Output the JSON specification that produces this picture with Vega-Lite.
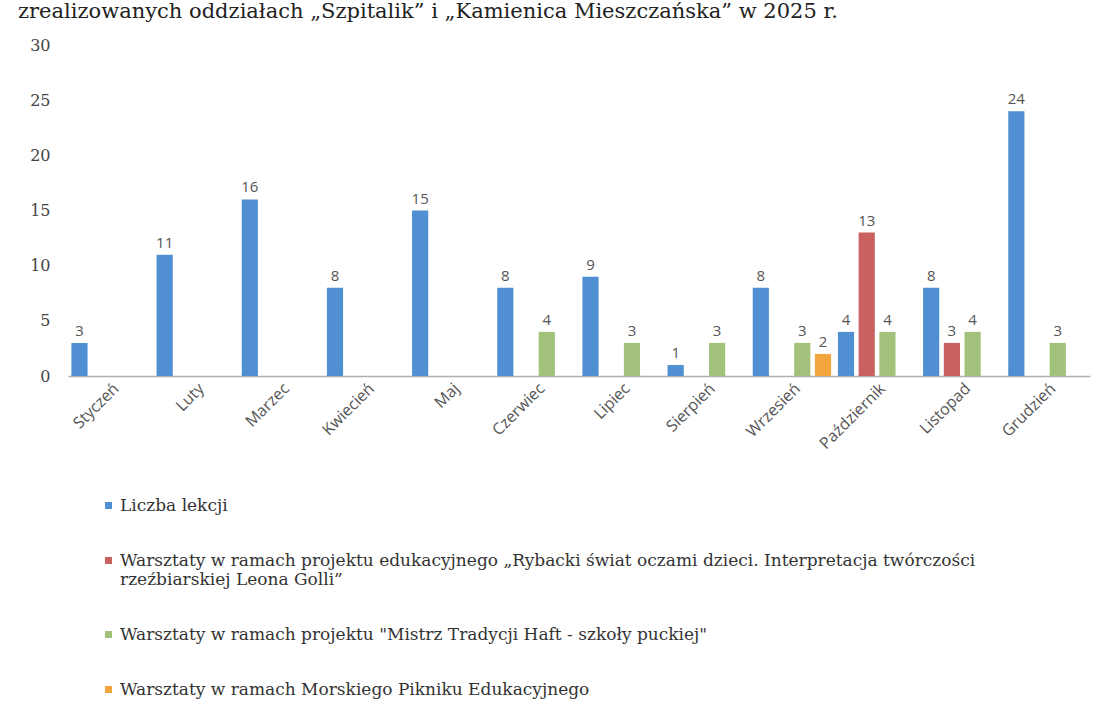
{
  "$schema": "https://vega.github.io/schema/vega-lite/v6.json",
  "width": 1022,
  "height": 331,
  "autosize": {"type": "none"},
  "padding": {"left": 68, "top": 45, "right": 14, "bottom": 325},
  "background": "#ffffff",
  "config": {"view": {"stroke": null}},
  "title": {
    "text": "zrealizowanych oddziałach „Szpitalik” i „Kamienica Mieszczańska” w 2025 r.",
    "anchor": "start",
    "frame": "group",
    "dx": -50,
    "offset": 15,
    "font": "DejaVu Serif",
    "fontSize": 21,
    "fontWeight": "normal",
    "color": "#222222"
  },
  "data": {
    "values": [
      {"miesiac": "Styczeń", "seria": "Liczba lekcji", "wartosc": 3},
      {"miesiac": "Luty", "seria": "Liczba lekcji", "wartosc": 11},
      {"miesiac": "Marzec", "seria": "Liczba lekcji", "wartosc": 16},
      {"miesiac": "Kwiecień", "seria": "Liczba lekcji", "wartosc": 8},
      {"miesiac": "Maj", "seria": "Liczba lekcji", "wartosc": 15},
      {"miesiac": "Czerwiec", "seria": "Liczba lekcji", "wartosc": 8},
      {"miesiac": "Czerwiec", "seria": "Warsztaty w ramach projektu \"Mistrz Tradycji Haft - szkoły puckiej\"", "wartosc": 4},
      {"miesiac": "Lipiec", "seria": "Liczba lekcji", "wartosc": 9},
      {"miesiac": "Lipiec", "seria": "Warsztaty w ramach projektu \"Mistrz Tradycji Haft - szkoły puckiej\"", "wartosc": 3},
      {"miesiac": "Sierpień", "seria": "Liczba lekcji", "wartosc": 1},
      {"miesiac": "Sierpień", "seria": "Warsztaty w ramach projektu \"Mistrz Tradycji Haft - szkoły puckiej\"", "wartosc": 3},
      {"miesiac": "Wrzesień", "seria": "Liczba lekcji", "wartosc": 8},
      {"miesiac": "Wrzesień", "seria": "Warsztaty w ramach projektu \"Mistrz Tradycji Haft - szkoły puckiej\"", "wartosc": 3},
      {"miesiac": "Wrzesień", "seria": "Warsztaty w ramach Morskiego Pikniku Edukacyjnego", "wartosc": 2},
      {"miesiac": "Październik", "seria": "Liczba lekcji", "wartosc": 4},
      {"miesiac": "Październik", "seria": "Warsztaty w ramach projektu edukacyjnego „Rybacki świat oczami dzieci. Interpretacja twórczości rzeźbiarskiej Leona Golli”", "wartosc": 13},
      {"miesiac": "Październik", "seria": "Warsztaty w ramach projektu \"Mistrz Tradycji Haft - szkoły puckiej\"", "wartosc": 4},
      {"miesiac": "Listopad", "seria": "Liczba lekcji", "wartosc": 8},
      {"miesiac": "Listopad", "seria": "Warsztaty w ramach projektu edukacyjnego „Rybacki świat oczami dzieci. Interpretacja twórczości rzeźbiarskiej Leona Golli”", "wartosc": 3},
      {"miesiac": "Listopad", "seria": "Warsztaty w ramach projektu \"Mistrz Tradycji Haft - szkoły puckiej\"", "wartosc": 4},
      {"miesiac": "Grudzień", "seria": "Liczba lekcji", "wartosc": 24},
      {"miesiac": "Grudzień", "seria": "Warsztaty w ramach projektu \"Mistrz Tradycji Haft - szkoły puckiej\"", "wartosc": 3}
    ]
  },
  "encoding": {
    "x": {
      "field": "miesiac",
      "type": "nominal",
      "sort": ["Styczeń", "Luty", "Marzec", "Kwiecień", "Maj", "Czerwiec", "Lipiec", "Sierpień", "Wrzesień", "Październik", "Listopad", "Grudzień"],
      "scale": {"paddingInner": 0.08, "paddingOuter": 0.04},
      "axis": {
        "title": null,
        "labelAngle": -45,
        "labelAlign": "right",
        "labelBaseline": "top",
        "labelPadding": 4,
        "labelFont": "Open Sans",
        "labelFontSize": 16,
        "labelColor": "#555555",
        "ticks": false,
        "domainColor": "#b0b0b0",
        "domainWidth": 1.5,
        "grid": false
      }
    },
    "xOffset": {
      "field": "seria",
      "type": "nominal",
      "scale": {
        "domain": [
          "Liczba lekcji",
          "Warsztaty w ramach projektu edukacyjnego „Rybacki świat oczami dzieci. Interpretacja twórczości rzeźbiarskiej Leona Golli”",
          "Warsztaty w ramach projektu \"Mistrz Tradycji Haft - szkoły puckiej\"",
          "Warsztaty w ramach Morskiego Pikniku Edukacyjnego"
        ],
        "paddingInner": 0.22,
        "paddingOuter": 0
      }
    },
    "y": {
      "field": "wartosc",
      "type": "quantitative",
      "scale": {"domain": [0, 30]},
      "axis": {
        "title": null,
        "values": [0, 5, 10, 15, 20, 25, 30],
        "domain": false,
        "ticks": false,
        "grid": false,
        "labelPadding": 18,
        "labelFont": "DejaVu Serif",
        "labelFontSize": 16,
        "labelColor": "#444444"
      }
    }
  },
  "layer": [
    {
      "mark": {"type": "bar"},
      "encoding": {
        "color": {
          "field": "seria",
          "type": "nominal",
          "scale": {
            "domain": [
              "Liczba lekcji",
              "Warsztaty w ramach projektu edukacyjnego „Rybacki świat oczami dzieci. Interpretacja twórczości rzeźbiarskiej Leona Golli”",
              "Warsztaty w ramach projektu \"Mistrz Tradycji Haft - szkoły puckiej\"",
              "Warsztaty w ramach Morskiego Pikniku Edukacyjnego"
            ],
            "range": ["#4f8fd2", "#c8615f", "#a2c17b", "#f2a53c"]
          },
          "legend": {
            "title": null,
            "orient": "none",
            "legendX": 32,
            "legendY": 452,
            "direction": "vertical",
            "symbolType": "square",
            "symbolSize": 49,
            "symbolStrokeWidth": 0,
            "labelFont": "DejaVu Serif",
            "labelFontSize": 17,
            "labelColor": "#333333",
            "labelLimit": 1100,
            "labelOffset": 3,
            "rowPadding": 37,
            "labelExpr": "indexof(datum.label, 'Rybacki') >= 0 ? ['Warsztaty w ramach projektu edukacyjnego „Rybacki świat oczami dzieci. Interpretacja twórczości', 'rzeźbiarskiej Leona Golli”'] : datum.label"
          }
        }
      }
    },
    {
      "mark": {
        "type": "text",
        "baseline": "bottom",
        "dy": -4,
        "font": "Open Sans",
        "fontSize": 15,
        "color": "#555555"
      },
      "encoding": {
        "text": {"field": "wartosc", "type": "quantitative"}
      }
    }
  ]
}
